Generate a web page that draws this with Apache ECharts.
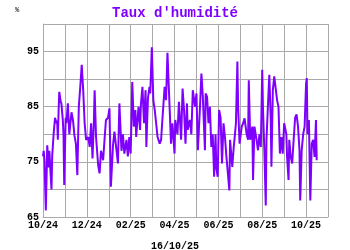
<!DOCTYPE html>
<html><head><meta charset="utf-8">
<script src="https://cdn.jsdelivr.net/npm/echarts@6/dist/echarts.min.js"></script>
<style>html,body{margin:0;padding:0;background:#fff}#c{width:350px;height:250px}</style>
</head><body><div id="c"></div>
<script>
// Days since 2024-10-01
const dayOffsets = [0,1,2,4,5,6,8,9,12,13,15,17,19,20,21,22,23,25,26,28,29,30,32,33,35,37,40,42,44,46,48,50,52,54,56,58,60,63,65,67,69,71,72,74,77,79,81,84,86,88,91,93,95,
98,100,103,105,107,110,112,114,117,119,121,123,125,127,129,130,133,135,136,138,140,142,143,145,147,148,150,152,154,156,158,161,163,165,168,170,172,175,177,179,182,183,186,188,191,193,195,197,199,
200,203,205,207,210,212,214,217,219,221,224,225,227,229,231,233,235,237,239,240,242,244,246,248,250,252,254,256,258,259,262,264,265,267,269,270,272,275,277,279,282,284,285,287,290,291,293,296,298,300,
301,302,304,305,307,309,310,312,314,316,317,319,321,323,325,327,329,331,333,335,338,339,341,342,344,346,348,350,352,354,356,357,359,361,363,365,366,367,369,371,373,375,377,379,380];
const humidity = [76,77,75.5,66.2,72,78,74,77,70,76,80,83,82,82.5,79,84,87.7,86,85.6,82.6,80,70.8,83,82,85.6,80,84,82.6,79.8,78.3,72.6,85,88.6,92.6,88,82,79,79.5,77.7,82,75.6,82.6,88,79.5,74.4,72.9,77,75.3,79,82.6,83,84.7,70.5,
78,80.5,77,74.7,85.6,77,80,76.5,79,76,79.5,76.5,89.5,81.4,84.4,79.5,85,80.8,85.3,88.6,82,88,77.7,86.5,88.6,87.4,95.8,86.2,84.4,82,79.5,78.3,79,83,88.6,86.2,94.8,85,78.3,82,76.5,82.6,80,85.9,79,88.3,84.4,78.3,85.6,
80.8,82.6,80,88,85,87.4,77.1,85,91,86.8,77.1,87.4,86.8,82,85,77.7,80,72.3,80,74.1,72.3,84.4,83,74.7,82,79.5,75.9,72.9,69.8,79,74.1,77.7,79,82,93.2,85,78.3,81.4,82,82.9,80,79,89.8,79,81.4,71.7,81.4,79,77.1,80,
80,77.7,91.7,85,77.1,67.1,79,85,90.8,83,74.1,88,90.5,90.8,86.2,85,76.5,79.5,76.5,82,80,75.9,71.7,79,75.9,74.7,79,83,83.6,81.4,77.1,68,77.1,80,81.4,89.2,90.2,80,82.6,68,78.3,79,75.9,82.6,75.3];
const monthLabels = ['10/24','11/24','12/24','01/25','02/25','03/25','04/25','05/25','06/25','07/25','08/25','09/25','10/25','11/25'];
const yTicks = [65,75,85,95];
const titleText = "Taux d'humidité";
const dateText = '16/10/25';
const unitText = '%';

function monthPos(d){
  const dt = new Date(Date.UTC(2024,9,1) + d*86400000);
  const y = dt.getUTCFullYear(), m = dt.getUTCMonth();
  const dim = new Date(Date.UTC(y,m+1,0)).getUTCDate();
  return (y-2024)*12 + m - 9 + (dt.getUTCDate()-1)/dim;
}
const data = dayOffsets.map((d,i)=>[monthPos(d), humidity[i]]);
const purple = '#7f00ff';
const font = 'Liberation Mono';
const chart = echarts.init(document.getElementById('c'));
chart.setOption({
  animation:false,
  backgroundColor:'#fff',
  title:[
    {text:titleText,left:'center',top:1,textStyle:{fontFamily:font,fontWeight:'bold',fontSize:14,color:purple}},
    {text:dateText,left:'center',top:236,textStyle:{fontFamily:font,fontWeight:'bold',fontSize:10,color:'#000'}},
    {text:unitText,left:10,top:2,textStyle:{fontFamily:font,fontSize:7,fontWeight:'normal',color:'#000'}}
  ],
  grid:{left:43,right:22,top:24,bottom:33},
  xAxis:{type:'value',min:0,max:13,interval:1,
    axisLine:{show:true,lineStyle:{color:'#aaa',width:1}},
    axisTick:{show:false},
    splitLine:{show:true,lineStyle:{color:'#aaa',width:1}},
    axisLabel:{margin:3,fontFamily:font,fontWeight:'bold',fontSize:10,color:'#000',
      formatter:v=>(v%2===0 && v<13)?monthLabels[v]:''}
  },
  yAxis:{type:'value',min:65,max:100,interval:5,
    axisLine:{show:true,lineStyle:{color:'#aaa',width:1}},
    axisTick:{show:false},
    splitLine:{show:true,lineStyle:{color:'#aaa',width:1}},
    axisLabel:{margin:4,fontFamily:font,fontWeight:'bold',fontSize:10,color:'#000',
      formatter:v=>yTicks.indexOf(v)>=0?String(v):''}
  },
  series:[{type:'line',data:data,showSymbol:false,lineStyle:{color:purple,width:2},itemStyle:{color:purple}}]
});
</script></body></html>
